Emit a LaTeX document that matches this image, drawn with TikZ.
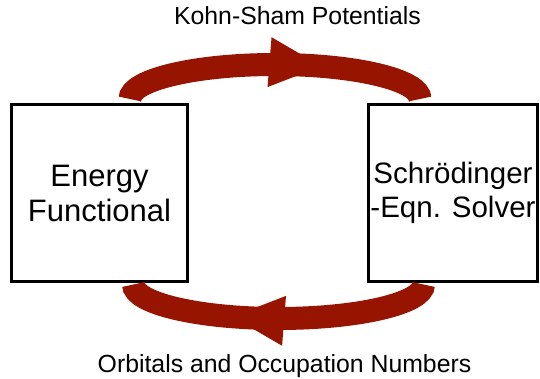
\documentclass[tikz,border=0pt]{standalone}
\usepackage{fontspec}
\setmainfont{Liberation Sans}
\usetikzlibrary{arrows.meta,decorations.markings}
\definecolor{loopred}{RGB}{150,20,0}
\tikzset{
	block/.style={draw, line width=3pt, inner sep=2pt, align=center,
		minimum height=177pt},
	looplabel/.style={inner sep=0pt, font=\fontsize{24.8}{28}\selectfont},
	loopline/.style={draw=loopred, line width=23pt, postaction={decorate},
		decoration={markings, mark=at position #1 with
			{\arrow{Triangle[length=52pt,width=50pt,line width=0pt]}}}},
}
\begin{document}
\begin{tikzpicture}[x=1pt,y=1pt]
	\useasboundingbox (0,0) rectangle (540,379);

	\node[block, minimum width=176pt, font=\fontsize{31}{35}\selectfont] (ef) at (99.5,186) {Energy\\Functional};
	\node[block, minimum width=169pt, font=\fontsize{29.5}{34}\selectfont] (rs) at (453,186) {Schrödinger\\-Eqn. Solver};

	\coordinate (ks) at ([xshift=30.5pt,yshift=4pt]ef.north);
	\coordinate (orb) at ([xshift=-29.5pt,yshift=-1.5pt]rs.south);

	\draw[loopline=0.65] (ks) arc[start angle=180, end angle=0, x radius=145pt, y radius=34.5pt];
	\draw[loopline=0.65] (orb) arc[start angle=0, end angle=-180, x radius=145pt, y radius=34pt];

	\node[looplabel, anchor=base] (kslbl) at (297.5,354) {Kohn-Sham Potentials};
	\node[looplabel, anchor=base] (orblbl) at (284.5,6) {Orbitals and Occupation Numbers};
\end{tikzpicture}
\end{document}
